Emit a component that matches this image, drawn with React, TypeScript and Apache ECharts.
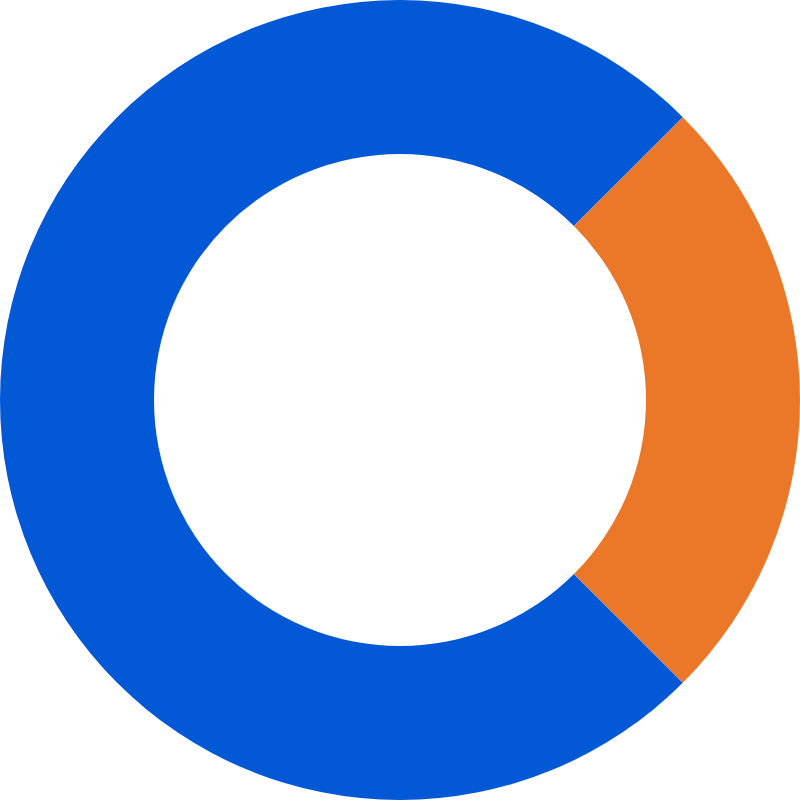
import React, { useEffect, useRef } from 'react';
import * as echarts from 'echarts';

// share of the ring, in percent
const categories = ['Blue', 'Orange'];
const values = [75, 25];
const colors = ['#0358D6', '#EA7828'];

export default function App() {
  const chartRef = useRef<HTMLDivElement>(null);

  useEffect(() => {
    if (!chartRef.current) return;
    const chart = echarts.init(chartRef.current, undefined, { renderer: 'svg' });

    chart.setOption({
      animation: false,
      series: [
        {
          type: 'pie',
          center: ['50%', '50%'],
          radius: ['61.5%', '100%'],
          startAngle: 315,
          clockwise: true,
          label: { show: false },
          labelLine: { show: false },
          emphasis: { disabled: true },
          itemStyle: { borderWidth: 0 },
          data: categories.map((name, i) => ({
            name,
            value: values[i],
            itemStyle: { color: colors[i] }
          }))
        }
      ]
    });

    return () => {
      chart.dispose();
    };
  }, []);

  return (
    <div
      ref={chartRef}
      style={{ position: 'fixed', left: 0, top: 0, width: 800, height: 800, background: '#fff' }}
    />
  );
}
